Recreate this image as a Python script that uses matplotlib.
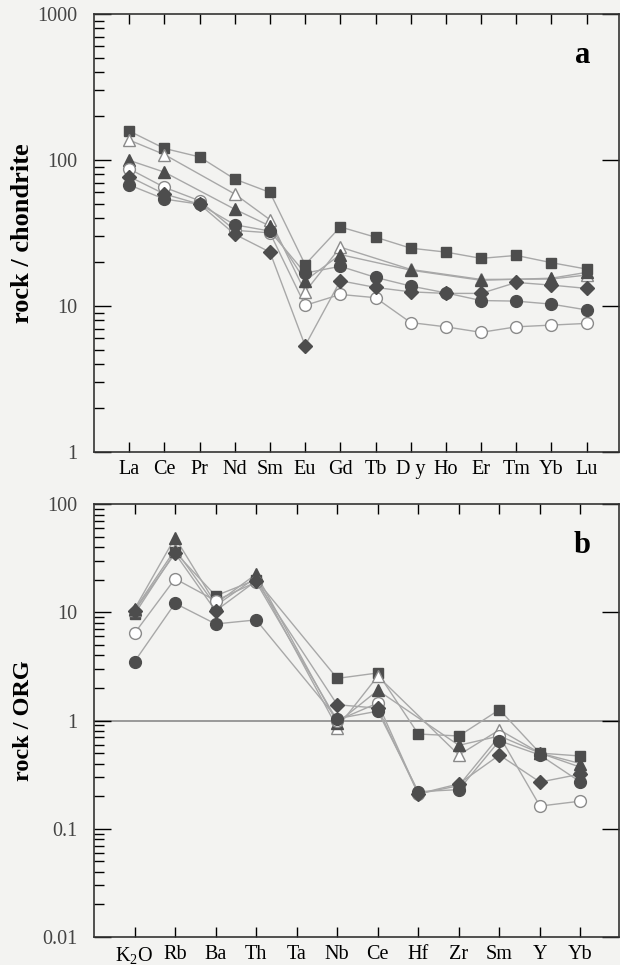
import numpy as np
import matplotlib
matplotlib.use("Agg")
import matplotlib.pyplot as plt
from matplotlib.ticker import LogLocator, NullFormatter, FixedLocator

nan = np.nan

# panel a: chondrite-normalised REE
ree = ["La", "Ce", "Pr", "Nd", "Sm", "Eu", "Gd", "Tb", "D y", "Ho", "Er", "Tm", "Yb", "Lu"]
ree_square = [158, 120, 105, 74, 60, 19.2, 34.8, 29.6, 24.9, 23.4, 21.2, 22.2, 19.8, 17.9]
ree_open_tri = [137, 109, nan, 58.5, 39, 12.5, 25.3, nan, 17.8, nan, 15.2, nan, 15.3, 16.3]
ree_fill_tri = [99.5, 82.6, nan, 46, 35.3, 14.9, 22.5, nan, 17.6, nan, 15.0, nan, 15.5, 17.0]
ree_open_circ = [87, 65, 52.6, 33, 31.7, 10.1, 12.0, 11.4, 7.7, 7.2, 6.6, 7.2, 7.4, 7.6]
ree_diamond = [77, 58.5, 49.8, 31, 23.4, 5.35, 14.9, 13.4, 12.5, 12.2, 12.2, 14.5, 13.9, 13.2]
ree_fill_circ = [67.5, 54, 49.8, 36, 32.6, 16.8, 18.7, 15.7, 13.7, 12.3, 10.9, 10.8, 10.3, 9.4]

# panel b: ORG-normalised
org = ["K$_2$O", "Rb", "Ba", "Th", "Ta", "Nb", "Ce", "Hf", "Zr", "Sm", "Y", "Yb"]
org_square = [9.6, 36, 14.2, 20, nan, 2.45, 2.75, 0.75, 0.72, 1.26, 0.50, 0.47]
org_open_tri = [10.5, 38, 11.5, 21, nan, 0.86, 2.57, nan, 0.48, 0.82, 0.50, 0.37]
org_fill_tri = [10.7, 49, 12, 22.5, nan, 0.95, 1.9, nan, 0.59, 0.72, 0.50, 0.40]
org_open_circ = [6.4, 20.4, 12.8, 19, nan, 1.0, 1.45, 0.21, 0.25, 0.72, 0.162, 0.18]
org_diamond = [10.3, 35, 10.3, 19.5, nan, 1.4, 1.3, 0.21, 0.26, 0.48, 0.27, 0.32]
org_fill_circ = [3.5, 12.1, 7.8, 8.5, nan, 1.04, 1.22, 0.22, 0.23, 0.65, 0.48, 0.27]

bg = "#f3f3f1"
dark = "#4d4d4d"
line_c = "#a8a8a8"

plt.rcParams['font.family'] = ['Liberation Serif', 'DejaVu Serif']
plt.rcParams['mathtext.fontset'] = 'custom'
plt.rcParams['mathtext.rm'] = 'Liberation Serif'

estilos = [
    ("s", dark, dark, 7.5),
    ("^", "white", "#8a8a8a", 9),
    ("^", dark, dark, 9),
    ("o", "white", "#8a8a8a", 8.5),
    ("D", dark, dark, 7),
    ("o", dark, dark, 8.5),
]


def desenha(ax, series):
    for vals, (m, fc, ec, ms) in zip(series, estilos):
        v = np.array(vals, dtype=float)
        x = np.arange(len(v))
        ok = ~np.isnan(v)
        ax.plot(x[ok], v[ok], color=line_c, lw=1.0, zorder=2)
        ax.plot(x[ok], v[ok], ls="none", marker=m, ms=ms, mfc=fc, mec=ec,
                mew=1.0, zorder=3)


def estilo_eixo(ax, n, xmax):
    ax.set_facecolor(bg)
    ax.set_yscale("log")
    ax.set_xlim(-1, xmax)
    ax.xaxis.set_major_locator(FixedLocator(range(n)))
    ax.tick_params(axis="x", which="major", direction="in", length=7, width=1.0,
                   top=True, bottom=True, labelsize=14.5, pad=6)
    ax.tick_params(axis="y", which="major", direction="in", length=12, width=1.0,
                   left=True, right=True, labelsize=14.5, pad=12, labelcolor="#444444")
    ax.tick_params(axis="y", which="minor", direction="in", length=7, width=1.0,
                   left=True, right=False)
    ax.yaxis.set_minor_locator(LogLocator(base=10, subs=np.arange(2, 10)))
    ax.yaxis.set_minor_formatter(NullFormatter())
    for s in ax.spines.values():
        s.set_color("#333333")
        s.set_linewidth(1.2)


fig = plt.figure(figsize=(6.2, 9.65), dpi=100)
fig.patch.set_facecolor(bg)

ax1 = fig.add_axes([0.1516, 0.5316, 0.8468, 0.4539])
ax2 = fig.add_axes([0.1516, 0.029, 0.8468, 0.4487])

desenha(ax1, [ree_square, ree_open_tri, ree_fill_tri, ree_open_circ, ree_diamond, ree_fill_circ])
estilo_eixo(ax1, len(ree), 13.92)
ax1.set_ylim(1, 1000)
ax1.set_yticks([1, 10, 100, 1000])
ax1.set_yticklabels(["1", "10", "100", "1000"])
ax1.set_xticklabels(ree)
ax1.set_ylabel("rock / chondrite", fontsize=19, fontweight="bold", labelpad=2)
ax1.text(0.93, 0.905, "a", transform=ax1.transAxes, fontsize=22, fontweight="bold",
         ha="center", va="center")

desenha(ax2, [org_square, org_open_tri, org_fill_tri, org_open_circ, org_diamond, org_fill_circ])
estilo_eixo(ax2, len(org), 11.95)
ax2.axhline(1, color="#8a8a8a", lw=1.2, zorder=1)
ax2.set_ylim(0.01, 100)
ax2.set_yticks([0.01, 0.1, 1, 10, 100])
ax2.set_yticklabels(["0.01", "0.1", "1", "10", "100"])
ax2.set_xticklabels(org)
ax2.set_ylabel("rock / ORG", fontsize=17.5, fontweight="bold", labelpad=6)
ax2.text(0.93, 0.905, "b", transform=ax2.transAxes, fontsize=22, fontweight="bold",
         ha="center", va="center")

fig.savefig("out.png", dpi=100, facecolor=bg)
